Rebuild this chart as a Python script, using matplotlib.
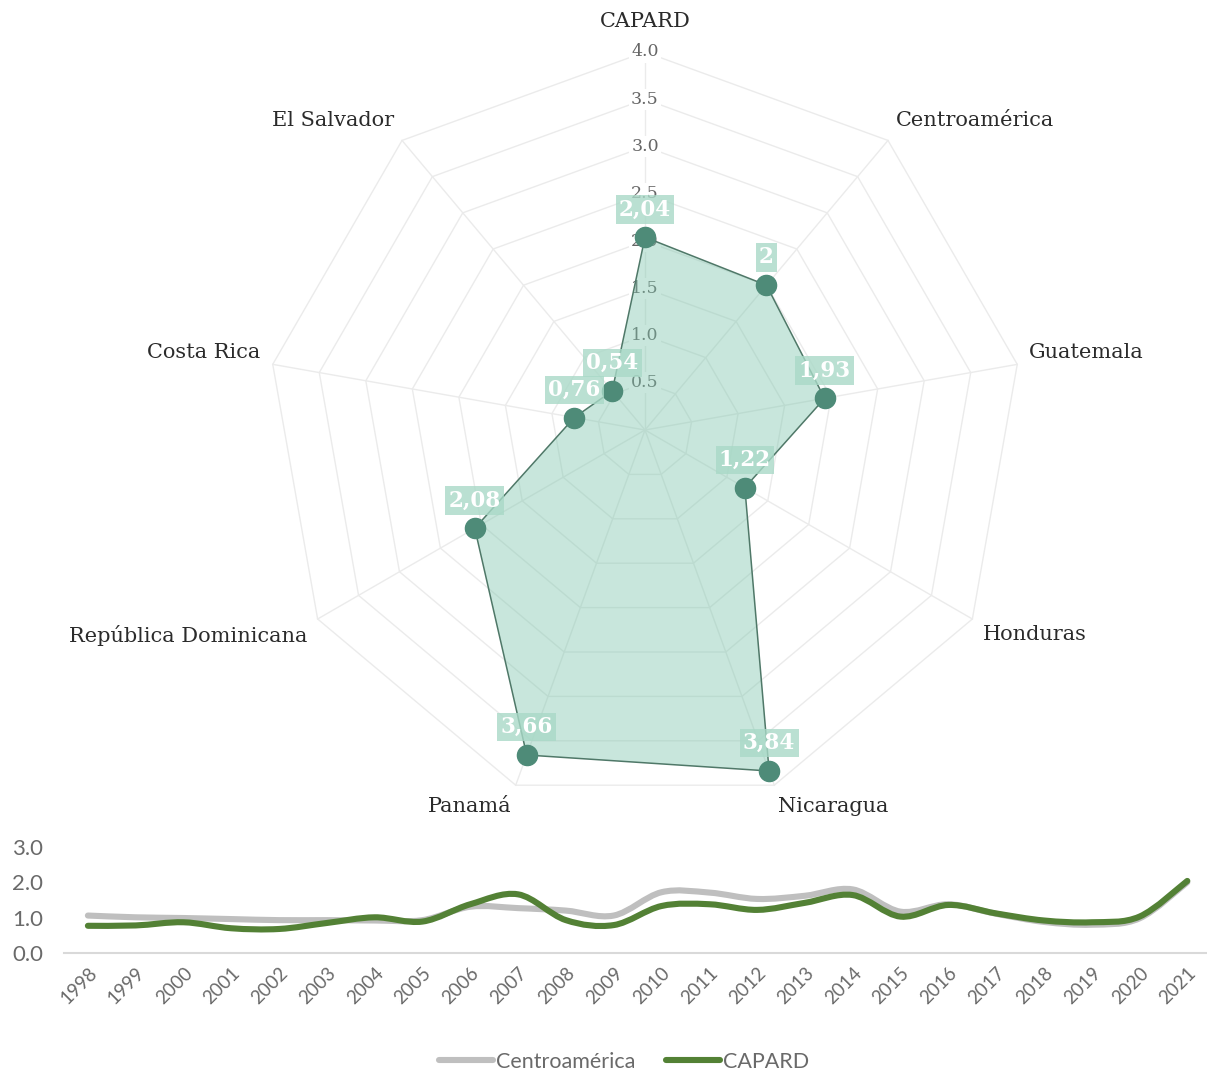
import numpy as np
import matplotlib
matplotlib.use("Agg")
import matplotlib.pyplot as plt
from matplotlib.path import Path
from matplotlib.patches import PathPatch, Polygon

# ---------------- data ----------------
radar_categories = ["CAPARD", "Centroamérica", "Guatemala", "Honduras", "Nicaragua",
                    "Panamá", "República Dominicana", "Costa Rica", "El Salvador"]
radar_values = [2.04, 2.00, 1.93, 1.22, 3.84, 3.66, 2.08, 0.76, 0.54]
radar_ticks = [0.5, 1.0, 1.5, 2.0, 2.5, 3.0, 3.5, 4.0]

years = list(range(1998, 2022))
centroamerica = [1.06, 1.01, 0.99, 0.96, 0.93, 0.93, 0.92, 0.93, 1.31, 1.27, 1.20, 1.06,
                 1.72, 1.71, 1.53, 1.62, 1.80, 1.17, 1.38, 1.11, 0.88, 0.80, 0.98, 2.00]
capard = [0.77, 0.78, 0.87, 0.70, 0.68, 0.85, 1.01, 0.89, 1.38, 1.66, 0.93, 0.79,
          1.33, 1.38, 1.22, 1.42, 1.64, 1.03, 1.36, 1.12, 0.92, 0.87, 1.03, 2.04]

# ---------------- figure ----------------
W, H = 1207, 1074
fig = plt.figure(figsize=(W / 100, H / 100), dpi=100)
fig.patch.set_facecolor("white")

serif = ["DejaVu Serif"]
sans = ["Lato", "DejaVu Sans"]

# ---------------- radar ----------------
px_per_unit = 378 / 4.0
cx, cy = 645, 430
top_px = 820
ax = fig.add_axes([0, (H - top_px) / H, 1, top_px / H])
ax.set_xlim(-cx / px_per_unit, (W - cx) / px_per_unit)
ax.set_ylim(-(top_px - cy) / px_per_unit, cy / px_per_unit)
ax.axis("off")

n = len(radar_categories)
angles = np.arange(n) * 360.0 / n
th = np.deg2rad(angles)
sx, sy = np.sin(th), np.cos(th)
rmax = radar_ticks[-1]

grid_col = "#ebebeb"
for t in radar_ticks:
    ax.add_patch(Polygon(np.column_stack([t * sx, t * sy]), closed=True, fill=False,
                         edgecolor=grid_col, lw=1.0, zorder=1))
for i in range(n):
    ax.plot([0, rmax * sx[i]], [0, rmax * sy[i]], color=grid_col, lw=1.0, zorder=1)

for t in radar_ticks:
    ax.text(0, t, f"{t:.1f}", ha="center", va="center", fontsize=12.5, color="#666666",
            family=serif, zorder=2,
            bbox=dict(boxstyle="square,pad=0.12", fc="white", ec="none"))

vals = np.array(radar_values)
px, py = vals * sx, vals * sy
ax.add_patch(Polygon(np.column_stack([px, py]), closed=True, facecolor="#7cc5ac",
                     alpha=0.42, edgecolor="none", zorder=3))
ax.add_patch(Polygon(np.column_stack([px, py]), closed=True, fill=False,
                     edgecolor="#4f7868", lw=1.1, zorder=4))
ax.plot(px, py, "o", ms=14.5, color="#4e8b78", mec="#4e8b78", zorder=5)

for v, x0, y0 in zip(radar_values, px, py):
    txt = f"{v:g}".replace(".", ",")
    ax.annotate(txt, (x0, y0), xytext=(0, 20), textcoords="offset points",
                ha="center", va="center", fontsize=15.5, fontweight="bold", color="white",
                family=serif, zorder=6,
                bbox=dict(boxstyle="square,pad=0.15", fc="#a9d9c7", ec="none", alpha=0.8))

r_lab = 4.13
for i, name in enumerate(radar_categories):
    a = angles[i]
    x0, y0 = r_lab * sx[i], r_lab * sy[i]
    if np.isclose(a, 0) or np.isclose(a, 180):
        ha = "center"
    elif a < 180:
        ha = "left"
    else:
        ha = "right"
    if a < 90 or a > 270:
        va = "baseline"
        y0 += 0.05
    else:
        va = "top"
    if np.isclose(a, 0):
        y0 += 0.08
    ax.text(x0, y0, name, ha=ha, va=va, fontsize=15, color="#2b2b2b", family=serif,
            zorder=6)

# ---------------- line chart ----------------
lx0 = 64
step = 47.8
ax2 = fig.add_axes([lx0 / W, (H - 953) / H, 24 * step / W, 106 / H])
xs = np.arange(len(years))


def smooth_path(x, y):
    pts = np.column_stack([x, y]).astype(float)
    ext = np.vstack([pts[0], pts, pts[-1]])
    verts = [pts[0]]
    codes = [Path.MOVETO]
    for k in range(len(pts) - 1):
        p0, p1, p2, p3 = ext[k], ext[k + 1], ext[k + 2], ext[k + 3]
        c1 = p1 + (p2 - p0) / 6.0
        c2 = p2 - (p3 - p1) / 6.0
        verts += [c1, c2, p2]
        codes += [Path.CURVE4] * 3
    return Path(verts, codes)


ax2.add_patch(PathPatch(smooth_path(xs, centroamerica), fill=False, edgecolor="#bfbfbf",
                        lw=4.4, capstyle="round", joinstyle="round", zorder=3))
ax2.add_patch(PathPatch(smooth_path(xs, capard), fill=False, edgecolor="#538135",
                        lw=4.4, capstyle="round", joinstyle="round", zorder=4))
ax2.plot([], [], color="#bfbfbf", lw=4.4, solid_capstyle="round", label="Centroamérica")
ax2.plot([], [], color="#538135", lw=4.4, solid_capstyle="round", label="CAPARD")

ax2.set_xlim(-0.5, len(years) - 0.5)
ax2.set_ylim(0, 3.0)
ax2.set_yticks([0, 1, 2, 3])
ax2.set_yticklabels([f"{v:.1f}" for v in [0, 1, 2, 3]])
ax2.set_xticks(xs)
ax2.set_xticklabels([str(y) for y in years], rotation=45, ha="right", rotation_mode="anchor")
for s in ["top", "right", "left"]:
    ax2.spines[s].set_visible(False)
ax2.spines["bottom"].set_color("#d9d9d9")
ax2.spines["bottom"].set_linewidth(1.5)
ax2.tick_params(axis="both", length=0, colors="#6a6a6a")
ax2.tick_params(axis="y", pad=15, labelsize=16)
ax2.tick_params(axis="x", pad=8, labelsize=13.5)
for lab in ax2.get_xticklabels() + ax2.get_yticklabels():
    lab.set_family(sans)
ax2.set_facecolor("none")

leg = fig.legend(loc="center", bbox_to_anchor=(0.517, 1 - 1062 / H), ncol=2, frameon=False,
                 handlelength=2.5, handletextpad=0.15, columnspacing=1.4,
                 prop={"family": sans, "size": 15.5})
for t in leg.get_texts():
    t.set_color("#6a6a6a")

fig.savefig("out.png", dpi=100, facecolor="white")
